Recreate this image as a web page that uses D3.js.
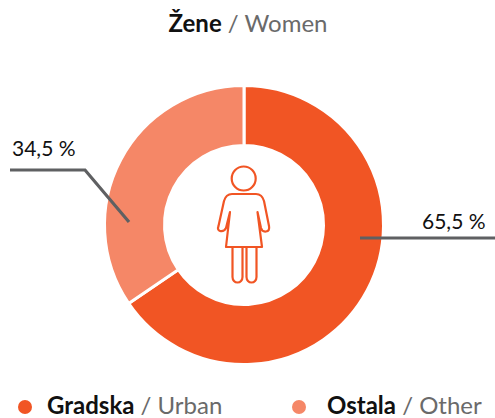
<!DOCTYPE html>
<html><head><meta charset="utf-8">
<script src="https://cdn.jsdelivr.net/npm/d3@7/dist/d3.min.js"></script>
<style>html,body{margin:0;padding:0;background:#fff}svg{display:block}text{font-family:Lato,sans-serif}</style>
</head><body><svg id="c" width="495" height="418"></svg>
<script>
const categories = ["Gradska","Ostala"];
const categoriesEn = ["Urban","Other"];
const values = [65.5,34.5];
const valueLabels = ["65,5 %","34,5 %"];
const colors = ["#f15524","#f58767"];
const svg = d3.select("#c");
const DARK="#111", GREY="#6a6a6a", LINE="#5f6062";
const cx=244, cy=225, R=139.5, r=79.5;
const pie=d3.pie().sort(null).value(d=>d);
const arc=d3.arc().innerRadius(r).outerRadius(R);
svg.append("g").attr("transform",`translate(${cx},${cy})`)
 .selectAll("path").data(pie(values)).join("path")
 .attr("d",arc).attr("fill",(d,i)=>colors[i]).attr("stroke","#fff").attr("stroke-width",3);

function two(x,y,a,b,size,anchor){
  const t=svg.append("text").attr("x",x).attr("y",y).attr("font-size",size).attr("text-anchor",anchor||"start");
  t.append("tspan").attr("font-weight",700).attr("fill",DARK).text(a);
  t.append("tspan").attr("fill",GREY).text(" / "+b);
}
two(248,31.5,"Žene","Women",24,"middle");

// leaders
const line=d3.line();
svg.append("path").attr("d",line([[10,170],[85,170],[129,222]])).attr("fill","none").attr("stroke",LINE).attr("stroke-width",3.2);
svg.append("path").attr("d",line([[360,238],[495,238]])).attr("fill","none").attr("stroke",LINE).attr("stroke-width",3.2);
svg.append("text").attr("x",12).attr("y",156).attr("font-size",21).attr("fill",DARK).text(valueLabels[1]);
svg.append("text").attr("x",422).attr("y",229).attr("font-size",21).attr("fill",DARK).text(valueLabels[0]);

// icon
const ic=svg.append("g").attr("fill","none").attr("stroke",colors[0]).attr("stroke-width",2.2).attr("stroke-linejoin","round").attr("stroke-linecap","round");
ic.append("circle").attr("cx",243.7).attr("cy",178.5).attr("r",12);
ic.append("path").attr("d","M230,212 L226,247 H262 L257.5,212 M230,212 L229.5,214 L226,228 Q224,232 220,231 Q217,230 218.5,226 L224,201 Q226,194 232,194 H256 Q262,194 264,201 L269,226 Q270,231 266,231.5 Q262,232 261,228 L257.5,212");
ic.append("path").attr("d","M232.5,247 V277 A5,5.5 0 0 0 242.5,277 V247");
ic.append("path").attr("d","M246.5,247 V277 A5,5.5 0 0 0 256.5,277 V247");

// legend
svg.append("circle").attr("cx",25).attr("cy",407).attr("r",7).attr("fill",colors[0]);
two(47,414,categories[0],categoriesEn[0],24);
svg.append("circle").attr("cx",299).attr("cy",407).attr("r",7).attr("fill",colors[1]);
two(327,414,categories[1],categoriesEn[1],24);
</script></body></html>
